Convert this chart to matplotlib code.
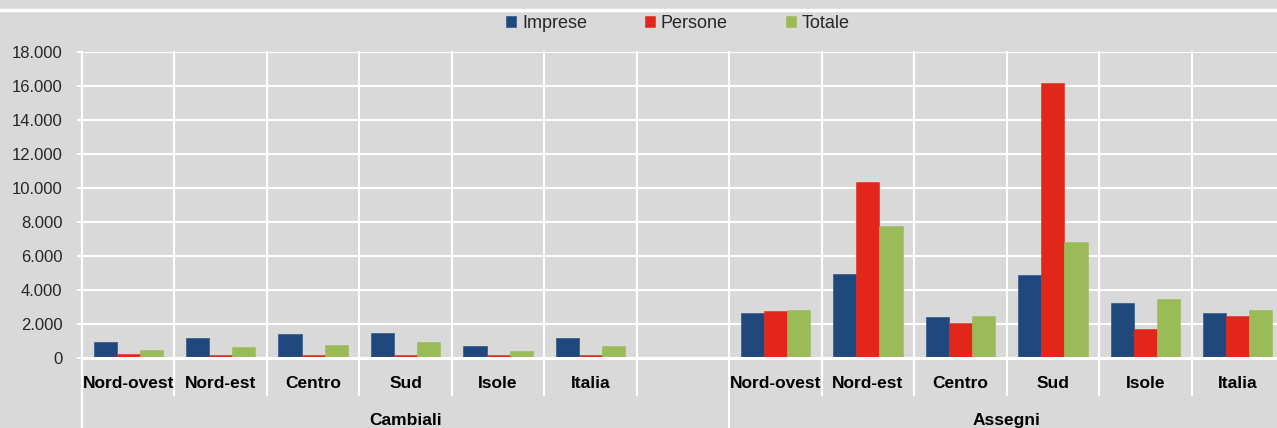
import matplotlib as mpl
mpl.use('Agg')
import matplotlib.pyplot as plt
import matplotlib.transforms as mtransforms
from matplotlib.lines import Line2D
from matplotlib.ticker import FuncFormatter
import numpy as np

plt.rcParams['font.family'] = ['Liberation Sans', 'DejaVu Sans']

# dati
regioni = ['Nord-ovest', 'Nord-est', 'Centro', 'Sud', 'Isole', 'Italia']
gruppi = ['Cambiali', 'Assegni']
serie = ['Imprese', 'Persone', 'Totale']
colori = ['#1F497D', '#E3261A', '#9BBB59']

cambiali_imprese = [920, 1200, 1420, 1480, 700, 1200]
cambiali_persone = [220, 160, 200, 200, 150, 200]
cambiali_totale = [500, 620, 760, 920, 420, 700]

assegni_imprese = [2620, 4950, 2400, 4870, 3260, 2620]
assegni_persone = [2760, 10350, 2060, 16150, 1700, 2480]
assegni_totale = [2820, 7760, 2460, 6800, 3460, 2820]

yticks = np.arange(0, 18001, 2000)

bg = '#D9D9D9'
fig = plt.figure(figsize=(12.77, 4.28), dpi=100, facecolor=bg)
ax = fig.add_axes([82 / 1277, 70 / 428, 1202 / 1277, 306 / 428])
ax.set_facecolor(bg)

n = len(regioni)
# posizioni: 6 regioni, uno slot vuoto, 6 regioni
pos_c = np.arange(n)
pos_a = np.arange(n) + n + 1
w = 0.25

dati_c = [cambiali_imprese, cambiali_persone, cambiali_totale]
dati_a = [assegni_imprese, assegni_persone, assegni_totale]
for i in range(3):
    off = (i - 1) * w
    ax.bar(pos_c + off, dati_c[i], w, color=colori[i], label=serie[i],
           edgecolor=colori[i], linewidth=0.4, zorder=3)
    ax.bar(pos_a + off, dati_a[i], w, color=colori[i],
           edgecolor=colori[i], linewidth=0.4, zorder=3)

nslot = 2 * n + 1
ax.set_xlim(-0.5, nslot - 0.5)
ax.set_ylim(0, 18000)
ax.set_yticks(yticks)
ax.yaxis.set_major_formatter(FuncFormatter(lambda v, p: f'{int(v):,}'.replace(',', '.')))
ax.tick_params(axis='y', colors='white', length=3.6, width=1.4, pad=10.5,
               labelcolor='#262626', labelsize=12)
ax.grid(axis='y', color='white', linewidth=1.5, zorder=0)

posizioni = list(pos_c) + [n] + list(pos_a)
etichette = regioni + [''] + regioni
ax.set_xticks(posizioni)
ax.set_xticklabels(etichette, fontweight='bold', fontsize=12.5, color='black')
ax.tick_params(axis='x', length=0, pad=13)

for s in ['top', 'right']:
    ax.spines[s].set_visible(False)
ax.spines['left'].set_color('white')
ax.spines['left'].set_linewidth(1.5)
ax.spines['bottom'].set_color('white')
ax.spines['bottom'].set_linewidth(2.2)
ax.spines['bottom'].set_zorder(4)

# separatori verticali tra categorie
trans = mtransforms.blended_transform_factory(ax.transData, ax.transAxes)
for k in range(1, nslot):
    x = k - 0.5
    if k == n + 1:
        ax.plot([x, x], [-0.3, 1], color='white', linewidth=1.5, transform=trans,
                clip_on=False, zorder=1)
    else:
        ax.plot([x, x], [-0.12, 1], color='white', linewidth=1.5, transform=trans,
                clip_on=False, zorder=1)
ax.plot([-0.5, -0.5], [-0.3, 0], color='white', linewidth=1.5, transform=trans,
        clip_on=False)

# etichette di gruppo
ax.text(n / 2, -0.203, gruppi[0], transform=trans, ha='center', va='center',
        fontsize=12.5, fontweight='bold', color='black')
ax.text((n + 0.5 + nslot - 0.5) / 2, -0.203, gruppi[1], transform=trans,
        ha='center', va='center', fontsize=12.5, fontweight='bold', color='black')

# linea bianca in alto
fig.add_artist(Line2D([0, 1], [1 - 10 / 428, 1 - 10 / 428], color='white',
                      linewidth=2.5, transform=fig.transFigure))

fig.legend(loc='center', bbox_to_anchor=(678 / 1277, 1 - 23 / 428), ncol=3,
           frameon=False, fontsize=13, handlelength=0.55, handleheight=0.55,
           handletextpad=0.33, columnspacing=3.2, labelcolor='#262626')

fig.savefig('out.png', dpi=100, facecolor=bg)
